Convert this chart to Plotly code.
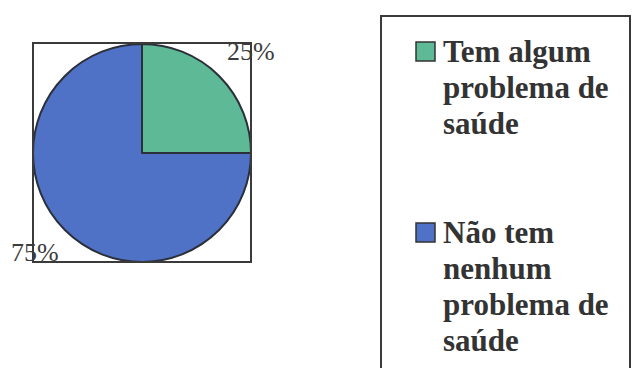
import plotly.graph_objects as go

# Survey answers and their shares
labels = ["Tem algum problema de saúde", "Não tem nenhum problema de saúde"]
values = [25, 75]
legend_lines = [
    ["Tem algum", "problema de", "saúde"],
    ["Não tem", "nenhum", "problema de", "saúde"],
]
colors = ["#5DB996", "#4F72C6"]

W, H = 633, 368


def px(x):
    return x / W


def py(y):
    return 1 - y / H


fig = go.Figure()

# Pie inside its square frame
fig.add_trace(go.Pie(
    labels=labels,
    values=values,
    sort=False,
    direction="clockwise",
    rotation=0,
    textinfo="none",
    hoverinfo="label+percent",
    marker=dict(colors=colors, line=dict(color="#2B2F3A", width=2)),
    domain=dict(x=[px(33), px(251)], y=[py(262), py(44)]),
    showlegend=False,
))

shapes = [
    # frame around the pie
    dict(type="rect", xref="paper", yref="paper",
         x0=px(33), x1=px(251), y0=py(262), y1=py(43),
         line=dict(color="#3A3A3A", width=2), fillcolor="rgba(0,0,0,0)"),
    # legend frame
    dict(type="rect", xref="paper", yref="paper",
         x0=px(381), x1=px(630), y0=py(380), y1=py(16),
         line=dict(color="#3A3A3A", width=2), fillcolor="rgba(0,0,0,0)"),
]

annotations = []

# percentage labels
total = sum(values)
pct_pos = [(251, 51), (35, 252)]
for v, (x, y) in zip(values, pct_pos):
    annotations.append(dict(
        x=px(x), y=py(y), xref="paper", yref="paper",
        text=f"{v / total * 100:.0f}%", showarrow=False,
        xanchor="center", yanchor="middle",
        font=dict(family="Liberation Serif", size=26, color="#3C3C3C"),
    ))

# legend: swatch + wrapped label lines
item_top = [51, 232]
line_step = 36
for lines, color, y0 in zip(legend_lines, colors, item_top):
    shapes.append(dict(
        type="rect", xref="paper", yref="paper",
        x0=px(416), x1=px(435), y0=py(y0 + 10), y1=py(y0 - 9),
        line=dict(color="#333333", width=1.5), fillcolor=color,
    ))
    for i, t in enumerate(lines):
        annotations.append(dict(
            x=px(441), y=py(y0 + i * line_step), xref="paper", yref="paper",
            text=f"<b>{t}</b>", showarrow=False,
            xanchor="left", yanchor="middle",
            font=dict(family="Liberation Serif", size=31, color="#333333"),
        ))

fig.update_layout(
    width=W, height=H,
    margin=dict(l=0, r=0, t=0, b=0),
    paper_bgcolor="white",
    plot_bgcolor="white",
    shapes=shapes,
    annotations=annotations,
)

fig.write_html("out.html")
